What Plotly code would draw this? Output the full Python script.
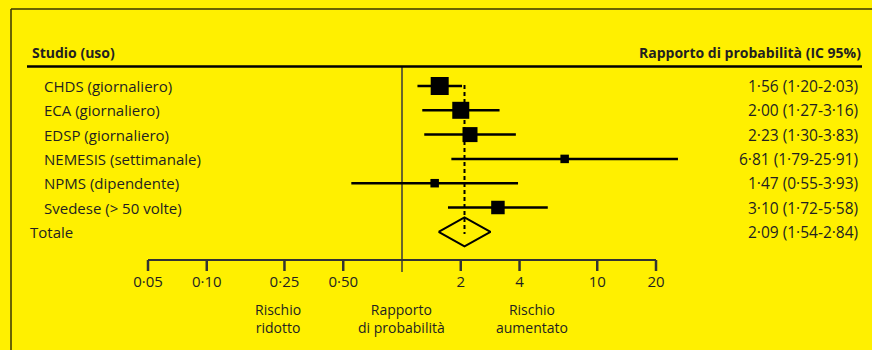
import math
import plotly.graph_objects as go

# ---------------- data ----------------
studies = ["CHDS (giornaliero)", "ECA (giornaliero)", "EDSP (giornaliero)",
           "NEMESIS (settimanale)", "NPMS (dipendente)", "Svedese (> 50 volte)"]
odds = [1.56, 2.00, 2.23, 6.81, 1.47, 3.10]
ci_low = [1.20, 1.27, 1.30, 1.79, 0.55, 1.72]
ci_high = [2.03, 3.16, 3.83, 25.91, 3.93, 5.58]
total_label = "Totale"
total_or = 2.09
total_low = 1.54
total_high = 2.84
tick_vals = [0.05, 0.10, 0.25, 0.50, 2, 4, 10, 20]
tick_text = ["0·05", "0·10", "0·25", "0·50", "2", "4", "10", "20"]
header_left = "Studio (uso)"
header_right = "Rapporto di probabilità (IC 95%)"
bottom_labels = ["Rischio<br>ridotto", "Rapporto<br>di probabilità", "Rischio<br>aumentato"]

# ---------------- style ----------------
W, H = 872, 350
BG = "#FFF000"
INK = "#231f20"
FONT = "Open Sans"
FS = 15
square_sizes = [18, 17, 15, 8.5, 8.5, 13.5]

# pixel geometry helpers (layout only)
X_PX0, X_PX1 = 148, 656          # pixel positions of 0.05 and 20
ppd = (X_PX1 - X_PX0) / math.log10(20 / 0.05)
xr0 = math.log10(0.05) - X_PX0 / ppd
xr1 = math.log10(20) + (W - X_PX1) / ppd
ROW0, ROWSTEP = 86, 24.3
yr_top = -ROW0 / ROWSTEP
yr_bot = (H - ROW0) / ROWSTEP


def py(pix):
    return (pix - ROW0) / ROWSTEP


def paper_x(pix):
    return pix / W


def paper_y(pix):
    return 1 - pix / H


def fmt(v):
    return f"{v:.2f}".replace(".", "·")


n = len(studies)
rows = list(range(n))
total_row = n

fig = go.Figure()

# null line at OR = 1
fig.add_trace(go.Scatter(x=[1, 1], y=[py(66), py(272)], mode="lines",
                         line=dict(color="#3a3a3a", width=1.5), hoverinfo="skip"))

# axis line and ticks
fig.add_trace(go.Scatter(x=[tick_vals[0], tick_vals[-1]], y=[py(260), py(260)], mode="lines",
                         line=dict(color="#333333", width=2), hoverinfo="skip"))
tx, ty = [], []
for v in tick_vals:
    tx += [v, v, None]
    ty += [py(260), py(271), None]
fig.add_trace(go.Scatter(x=tx, y=ty, mode="lines",
                         line=dict(color="#333333", width=2.5), hoverinfo="skip"))
fig.add_trace(go.Scatter(x=tick_vals, y=[py(283)] * len(tick_vals), mode="text",
                         text=tick_text, textposition="middle center",
                         textfont=dict(family=FONT, size=FS, color=INK), hoverinfo="skip"))

# CI lines
cx, cy = [], []
for i in rows:
    cx += [ci_low[i], ci_high[i], None]
    cy += [i, i, None]
fig.add_trace(go.Scatter(x=cx, y=cy, mode="lines",
                         line=dict(color="#000000", width=2.5), hoverinfo="skip"))

# pooled dashed line
fig.add_trace(go.Scatter(x=[total_or, total_or], y=[py(85), py(234)], mode="lines",
                         line=dict(color="#000000", width=2, dash="4px,3px"), hoverinfo="skip"))

# squares
fig.add_trace(go.Scatter(x=odds, y=rows, mode="markers",
                         marker=dict(symbol="square", size=square_sizes, color="#000000",
                                     opacity=1, line=dict(width=0)), hoverinfo="skip"))

# diamond
dh = 14.5 / ROWSTEP
fig.add_trace(go.Scatter(x=[total_low, total_or, total_high, total_or, total_low],
                         y=[total_row, total_row - dh, total_row, total_row + dh, total_row],
                         mode="lines", line=dict(color="#000000", width=2), hoverinfo="skip"))

annotations = []


def ann(xpix, y, text, anchor, size=FS):
    annotations.append(dict(x=paper_x(xpix), y=y, xref="paper", yref="y", text=text,
                            xanchor=anchor, yanchor="middle", align="center", showarrow=False,
                            font=dict(family=FONT, size=size, color=INK)))


# header
ann(30, py(52), f"<b>{header_left}</b>", "left", 14)
ann(863, py(52), f"<b>{header_right}</b>", "right", 14)
# row labels and values
for i in rows:
    ann(42, i, studies[i], "left")
    ann(860, i, f"{fmt(odds[i])} ({fmt(ci_low[i])}-{fmt(ci_high[i])})", "right", 15.5)
ann(28, total_row, total_label, "left")
ann(860, total_row, f"{fmt(total_or)} ({fmt(total_low)}-{fmt(total_high)})", "right", 15.5)
# bottom labels
for lbl, xp in zip(bottom_labels, [278, 401, 532]):
    ann(xp, py(318.5), lbl, "center", 14)

shapes = [
    # frame top and left
    dict(type="line", xref="paper", yref="paper", x0=paper_x(11), x1=1.0,
         y0=paper_y(9), y1=paper_y(9), line=dict(color="#3a3600", width=1.5)),
    dict(type="line", xref="paper", yref="paper", x0=paper_x(11), x1=paper_x(11),
         y0=paper_y(9), y1=0, line=dict(color="#3a3600", width=1.5)),
    # header rule
    dict(type="line", xref="paper", yref="paper", x0=paper_x(27), x1=paper_x(862),
         y0=paper_y(66.5), y1=paper_y(66.5), line=dict(color="#000000", width=2.5)),
]

fig.update_layout(
    width=W, height=H,
    margin=dict(l=0, r=0, t=0, b=0),
    paper_bgcolor=BG, plot_bgcolor=BG,
    showlegend=False,
    xaxis=dict(type="log", range=[xr0, xr1], visible=False, fixedrange=True),
    yaxis=dict(range=[yr_bot, yr_top], visible=False, fixedrange=True),
    annotations=annotations,
    shapes=shapes,
    hovermode=False,
)

fig.write_html("out.html", config={"displayModeBar": False},
               post_script="document.body.style.margin='0';document.body.style.background='#FFF000';")
